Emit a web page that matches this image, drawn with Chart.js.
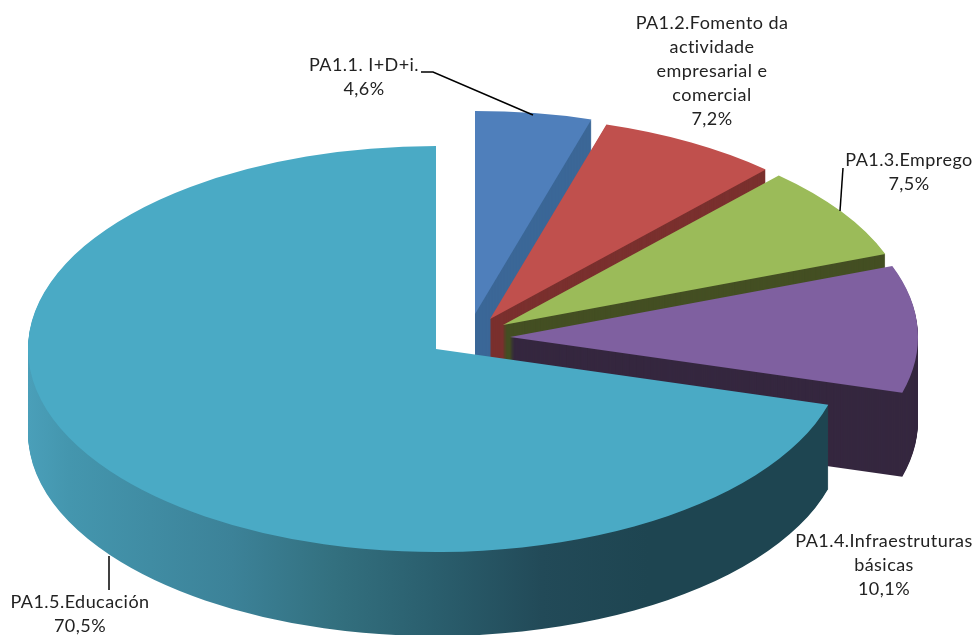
<!DOCTYPE html>
<html>
<head>
<meta charset="utf-8">
<style>
body { margin: 0; background: #fff; }
canvas { display: block; }
</style>
<script src="https://cdn.jsdelivr.net/npm/chart.js@4/dist/chart.umd.min.js"></script>
</head>
<body>
<canvas id="grafico" width="976" height="635"></canvas>
<script>
const categorias = [
    ["PA1.1. I+D+i."],
    ["PA1.2.Fomento da", "actividade", "empresarial e", "comercial"],
    ["PA1.3.Emprego"],
    ["PA1.4.Infraestruturas", "básicas"],
    ["PA1.5.Educación"]
];
const valores = [4.6, 7.2, 7.5, 10.1, 70.5];

const colores = ["#4f7fbb", "#c0504d", "#9bbb59", "#7f60a0", "#4aaac5"];
const coloresLado = ["#3b6797", "#7a302e", "#444f23", "#35273f", null];
// desplazamiento de cada porcion respecto al centro de la tarta
const despX = [39, 54, 67, 74, 0];
const despY = [-35, -30, -24, -12, 0];
// centro de cada etiqueta y de su primera linea
const etiquetaX = [364, 712, 909, 884, 80];
const etiquetaY = [65, 23, 160, 541, 602];
const guias = [
    [[421, 72], [433, 72], [533, 115]],
    [],
    [[843, 168], [840, 211]],
    [],
    [[109, 556], [109, 590]]
];

const centroX = 436, centroY = 349, radioX = 408, radioY = 203, grosor = 84;

function colocar(ctx, el, i, bajar) {
    const k = el.outerRadius;
    ctx.translate(centroX + despX[i], centroY + despY[i] + bajar);
    ctx.scale(radioX / k, radioY / k);
    ctx.translate(-el.x, -el.y);
}

const tarta3d = {
    id: "tarta3d",
    beforeDatasetsDraw(chart) {
        const ctx = chart.ctx;
        chart.getDatasetMeta(0).data.forEach((el, i) => {
            const opts = el.options;
            let lado = coloresLado[i];
            if (!lado) {
                // lateral de la porcion grande: oscurece hacia la derecha
                const k = el.outerRadius;
                lado = ctx.createLinearGradient(el.x - k, 0, el.x + k, 0);
                lado.addColorStop(0, "#4a9fb9");
                lado.addColorStop(0.05, "#4496ae");
                lado.addColorStop(0.25, "#3c8298");
                lado.addColorStop(0.375, "#33707f");
                lado.addColorStop(0.5, "#2a5e6d");
                lado.addColorStop(0.63, "#224a58");
                lado.addColorStop(0.76, "#1e4551");
                lado.addColorStop(1, "#1e4551");
            }
            el.options = Object.assign({}, opts, { backgroundColor: lado });
            for (let d = grosor; d > 0; d--) {
                ctx.save();
                colocar(ctx, el, i, d);
                el.draw(ctx);
                ctx.restore();
            }
            el.options = opts;
            ctx.save();
            colocar(ctx, el, i, 0);
            el.draw(ctx);
            ctx.restore();
        });
        return false;
    },
    afterDraw(chart) {
        const ctx = chart.ctx;
        ctx.save();
        ctx.strokeStyle = "#000";
        ctx.lineWidth = 1.5;
        guias.forEach(g => {
            if (!g.length) return;
            ctx.beginPath();
            g.forEach((p, j) => j ? ctx.lineTo(p[0], p[1]) : ctx.moveTo(p[0], p[1]));
            ctx.stroke();
        });
        ctx.fillStyle = "#222";
        ctx.font = "18px Lato";
        ctx.letterSpacing = "0.45px";
        ctx.textAlign = "center";
        ctx.textBaseline = "middle";
        categorias.forEach((lineas, i) => {
            const texto = lineas.concat(valores[i].toFixed(1).replace(".", ",") + "%");
            texto.forEach((t, j) => ctx.fillText(t, etiquetaX[i], etiquetaY[i] + j * 24));
        });
        ctx.restore();
    }
};

new Chart(document.getElementById("grafico").getContext("2d"), {
    type: "pie",
    data: {
        labels: categorias,
        datasets: [{
            data: valores,
            backgroundColor: colores,
            borderWidth: 0
        }]
    },
    options: {
        responsive: false,
        animation: false,
        plugins: {
            legend: { display: false },
            tooltip: { enabled: false }
        }
    },
    plugins: [tarta3d]
});
</script>
</body>
</html>
